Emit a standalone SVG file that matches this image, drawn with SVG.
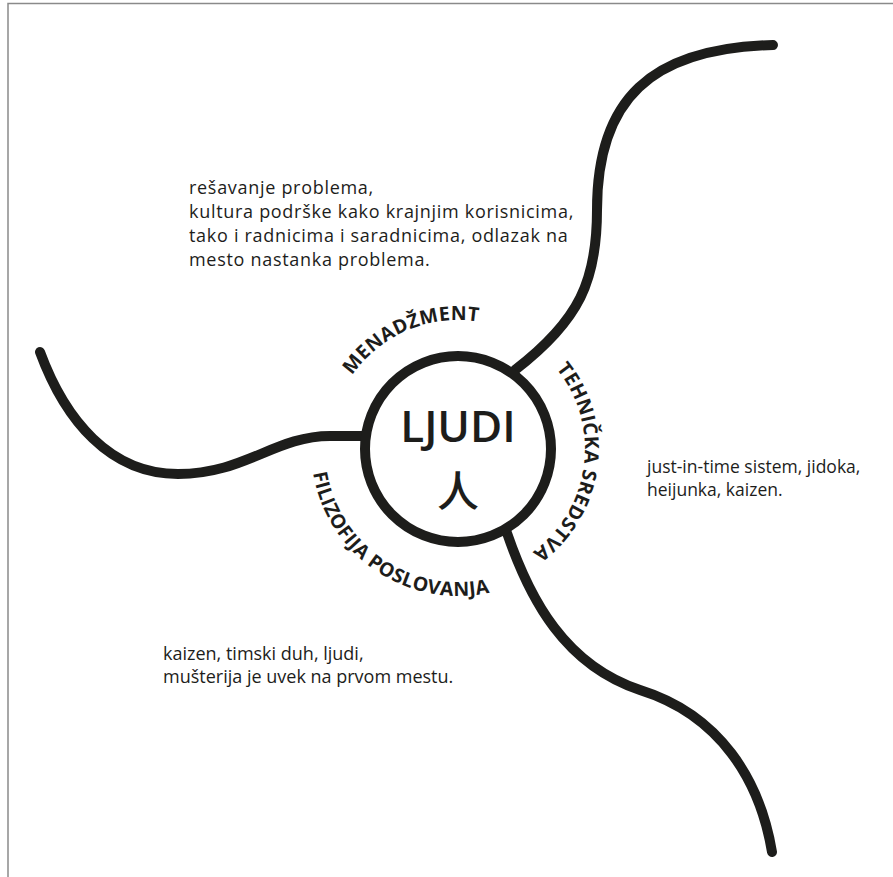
<svg xmlns="http://www.w3.org/2000/svg" width="893" height="877" viewBox="0 0 893 877">
<style>
.branch{fill:none;stroke:#1d1d1b;stroke-width:10;stroke-linecap:round}
.ring{fill:#fff;stroke:#1d1d1b;stroke-width:10}
.arc{font-family:"Open Sans","Liberation Sans",sans-serif;font-weight:700;font-size:19.5px;letter-spacing:0.4px;fill:#1d1d1b}
.body{font-family:"Open Sans","Liberation Sans",sans-serif;fill:#1d1d1b}
.frame{stroke:#8a8a8a;stroke-width:1.5;fill:none}
</style>
<defs>
<path id="pTop" d="M329.2,455.7 A129,129 0 0 1 552.3,361.0"/>
<path id="pRight" d="M516.6,336.4 A127,127 0 0 1 485.5,573.0"/>
<path id="pBottom" d="M315.4,413.4 A147,147 0 0 0 544.4,567.9"/>
</defs>
<rect width="893" height="877" fill="#fff"/>
<path class="frame" d="M8,877 L8,3.5 L893,3.5"/>
<g id="connectors">
<path class="branch" d="M515,370 C580,320 597,280 597,210 C597,100 650,48 773,45"/>
<path class="branch" d="M40,352 C65,420 110,474 178,474 C245,474 275,436 330,436 L362,436"/>
<path class="branch" d="M507,533 C530,600 565,665 640,690 C720,715 760,780 772,852"/>
</g>
<g id="ljudi">
<circle class="ring" cx="458" cy="449" r="93"/>
<text x="458" y="442" text-anchor="middle" font-family="'Open Sans','Liberation Sans',sans-serif" font-weight="600" font-size="44" fill="#1d1d1b">LJUDI</text>
<text x="458" y="507" text-anchor="middle" font-family="'Noto Sans CJK SC','Noto Sans CJK JP',sans-serif" font-weight="500" font-size="42" fill="#1d1d1b">人</text>
</g>
<g id="menadzment">
<text class="arc"><textPath href="#pTop" startOffset="50%" text-anchor="middle">MENADŽMENT</textPath></text>
<text class="body" font-size="18" letter-spacing="0.7"><tspan x="189" y="194">rešavanje problema,</tspan><tspan x="189" y="218">kultura podrške kako krajnjim korisnicima,</tspan><tspan x="189" y="242">tako i radnicima i saradnicima, odlazak na</tspan><tspan x="189" y="266">mesto nastanka problema.</tspan></text>
</g>
<g id="tehnicka">
<text class="arc"><textPath href="#pRight" startOffset="50%" text-anchor="middle">TEHNIČKA SREDSTVA</textPath></text>
<text class="body" font-size="17.5"><tspan x="647" y="473">just-in-time sistem, jidoka,</tspan><tspan x="647" y="496">heijunka, kaizen.</tspan></text>
</g>
<g id="filozofija">
<text class="arc"><textPath href="#pBottom" startOffset="50%" text-anchor="middle">FILIZOFIJA POSLOVANJA</textPath></text>
<text class="body" font-size="18"><tspan x="163" y="660">kaizen, timski duh, ljudi,</tspan><tspan x="163" y="683">mušterija je uvek na prvom mestu.</tspan></text>
</g>
</svg>
